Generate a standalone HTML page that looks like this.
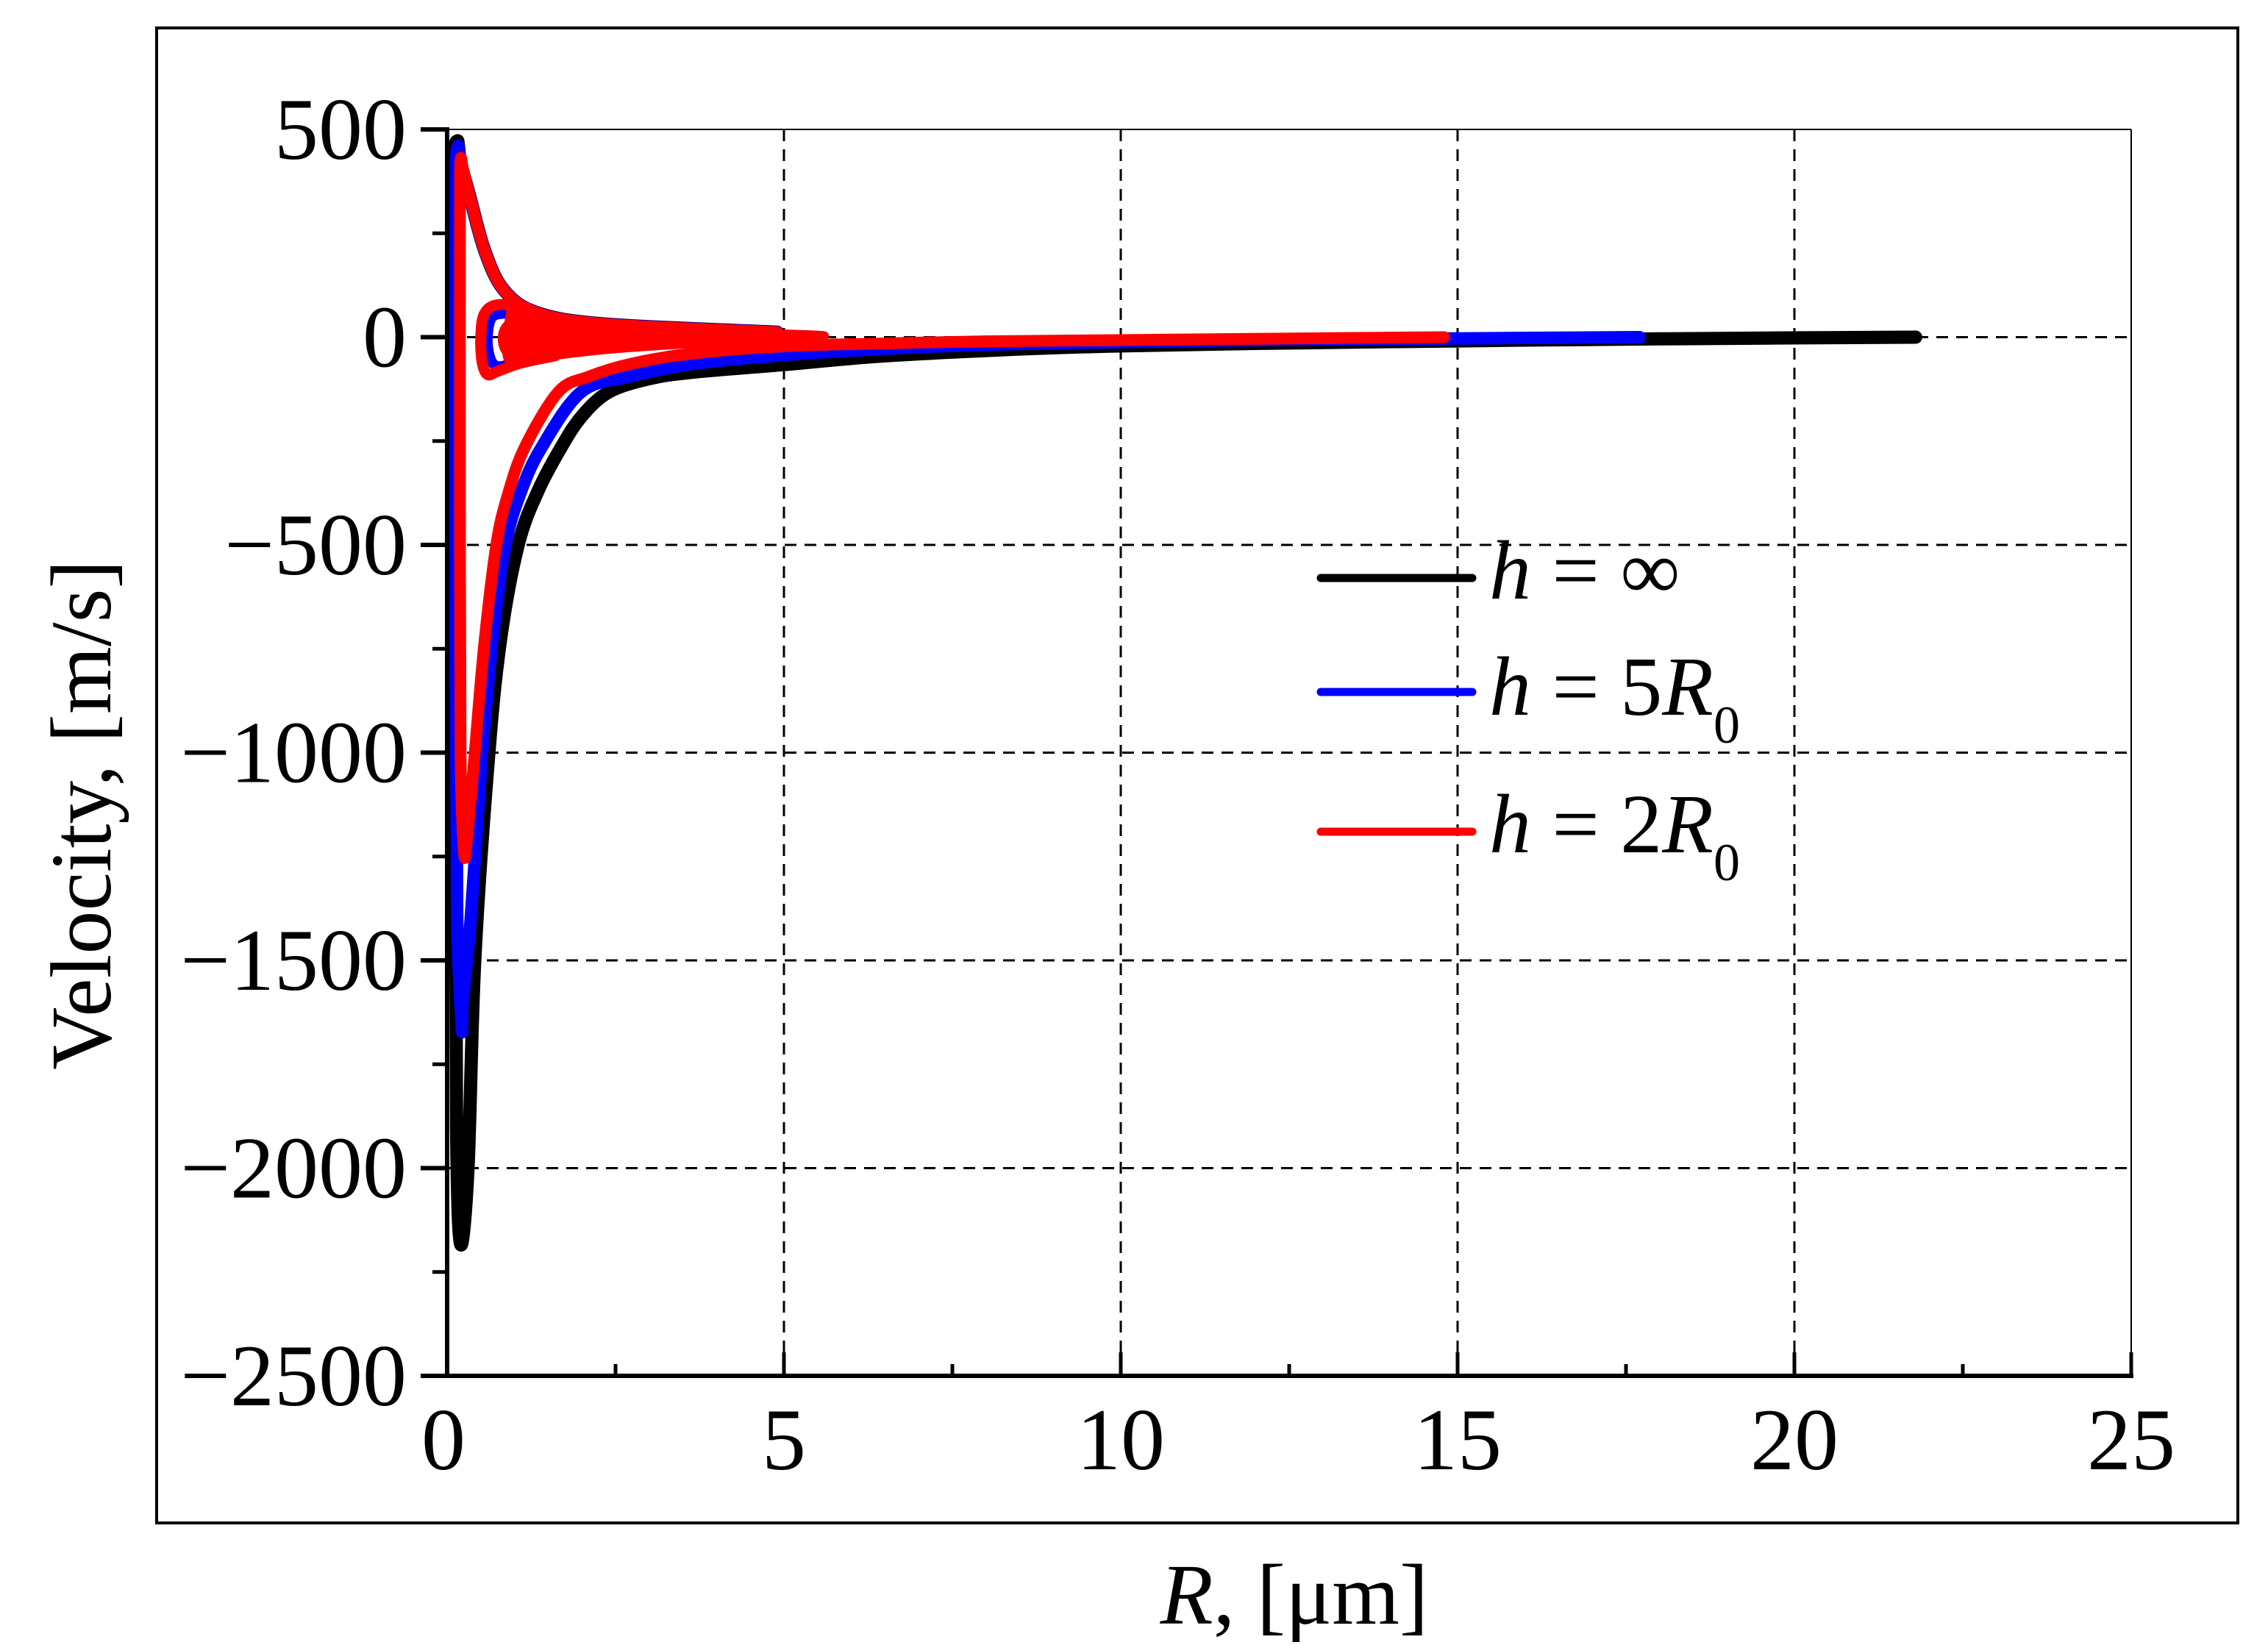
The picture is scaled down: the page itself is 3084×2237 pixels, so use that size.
<!DOCTYPE html>
<html><head><meta charset="utf-8"><style>
html,body{margin:0;padding:0;background:#fff;}
svg{display:block;}
text{font-family:"Liberation Serif",serif;fill:#000;}
</style></head><body>
<svg id="chart" width="3084" height="2237" viewBox="0 0 3084 2237" xmlns="http://www.w3.org/2000/svg">
<rect x="213" y="38" width="2830" height="2033" fill="none" stroke="#000" stroke-width="4"/>
<g id="grid"></g>
<g id="series"></g>
<g id="axes"></g>
<text transform="translate(150,1108) rotate(-90)" text-anchor="middle" font-size="118">Velocity, [m/s]</text>
<text x="1760" y="2208" text-anchor="middle" font-size="118"><tspan font-style="italic">R</tspan>, [μm]</text>
<g>
<g>
<line x1="1796" y1="786" x2="2002" y2="786" stroke="#000" stroke-width="11" stroke-linecap="round"/>
<text x="2025" y="814" font-size="114"><tspan font-style="italic">h</tspan> = ∞</text></g>
<g>
<line x1="1796" y1="941" x2="2002" y2="941" stroke="#0000ff" stroke-width="11" stroke-linecap="round"/>
<text x="2025" y="972" font-size="114"><tspan font-style="italic">h</tspan> = 5<tspan font-style="italic">R</tspan><tspan font-size="72" dy="38">0</tspan></text></g>
<g>
<line x1="1796" y1="1131" x2="2002" y2="1131" stroke="#ff0000" stroke-width="11" stroke-linecap="round"/>
<text x="2025" y="1159" font-size="114"><tspan font-style="italic">h</tspan> = 2<tspan font-style="italic">R</tspan><tspan font-size="72" dy="38">0</tspan></text></g>
</g>
</svg>
<script>
// Data (R in µm, velocity in m/s)
const xTicks = [0, 5, 10, 15, 20, 25];
const yTicks = [500, 0, -500, -1000, -1500, -2000, -2500];
const yTickLabels = ['500', '0', '\u2212500', '\u22121000', '\u22121500', '\u22122000', '\u22122500'];

// h = infinity (black)
const blackR = [21.8, 18, 15, 12, 10, 8.6, 6.5, 5.0, 3.66, 3.0, 2.4, 2.0, 1.69, 1.35, 1.06, 0.8, 0.62, 0.41, 0.31, 0.2, 0.14, 0.12, 0.12, 0.15, 0.2, 0.33, 0.56, 0.85, 1.35, 2.4, 4.9];
const blackV = [0, -4, -9, -15, -21, -28, -45, -66, -84, -100, -132, -190, -266, -370, -497, -720, -1000, -1500, -2000, -2183, -1900, -1000, 300, 468, 420, 343, 207, 112, 58, 31, 12];
// h = 5R0 (blue)
const blueR = [17.7, 15, 12, 10, 8, 6.5, 5.0, 3.66, 2.7, 1.99, 1.40, 1.1, 0.87, 0.68, 0.52, 0.35, 0.23, 0.22, 0.15, 0.13, 0.13, 0.16, 0.2, 0.33, 0.56, 0.85, 1.35, 2.4, 4.9];
const blueV = [0, -3, -7, -12, -18, -28, -43, -64, -95, -132, -266, -370, -497, -720, -1000, -1400, -1600, -1662, -1400, -800, 300, 455, 420, 343, 207, 112, 58, 31, 12];
// h = 2R0 (red)
const redR = [14.8, 12, 10, 8, 6.5, 5.0, 3.6, 2.73, 2.1, 1.65, 1.15, 0.9, 0.73, 0.55, 0.41, 0.3, 0.25, 0.2, 0.19, 0.19, 0.2, 0.24, 0.33, 0.56, 0.85, 1.35, 2.4, 4.9];
const redV = [0, -4, -7, -10, -15, -22, -40, -64, -95, -132, -266, -380, -500, -740, -1000, -1200, -1240, -1000, -400, 300, 427, 400, 343, 207, 112, 58, 31, 12];
// rebound loops (red, blue inner)
const redLoopR = [1.2, 0.75, 0.55, 0.5, 0.52, 0.6, 0.75, 1.1, 1.6];
const redLoopV = [70, 78, 55, 0, -60, -90, -82, -62, -45];
const redWedgeR = [0.95, 1.5, 2.5, 4.0, 5.6, 4.0, 2.5, 1.5, 0.95, 0.88];
const redWedgeV = [70, 52, 30, 13, 3, -12, -28, -46, -60, 0];
const blueLoopR = [1.0, 0.68, 0.6, 0.64, 0.75, 1.0];
const blueLoopV = [58, 50, 0, -50, -70, -62];
const innerLoopR = [1.2, 0.92, 0.83, 0.9, 1.2];
const innerLoopV = [38, 30, 0, -35, -42];

const NS = 'http://www.w3.org/2000/svg';
const X0 = 608, PXR = 91.6, Y0 = 458.5, PXV = 0.565;
function xs(r){ return X0 + r * PXR; }
function ys(v){ return Y0 - v * PXV; }
const pLeft = xs(0), pRight = xs(25), pTop = ys(500), pBottom = ys(-2500);

function mk(tag, attrs, parent){
  const e = document.createElementNS(NS, tag);
  for (const k in attrs) e.setAttribute(k, attrs[k]);
  parent.appendChild(e);
  return e;
}
const gridG = document.getElementById('grid');
const axesG = document.getElementById('axes');
const seriesG = document.getElementById('series');

xTicks.slice(1, -1).forEach(t => {
  const l = mk('line', {x1: xs(t), x2: xs(t), y1: pTop, y2: pBottom, stroke: '#000', 'stroke-width': 3, 'stroke-dasharray': '16 11'}, gridG);
  
  
});
yTicks.slice(1, -1).forEach(t => {
  const l = mk('line', {x1: pLeft, x2: pRight, y1: ys(t), y2: ys(t), stroke: '#000', 'stroke-width': 3, 'stroke-dasharray': '16 11'}, gridG);
  
  
});

function smoothD(R, V){
  const P = R.map((r, i) => [xs(r), ys(V[i])]);
  let d = 'M' + P[0][0].toFixed(1) + ' ' + P[0][1].toFixed(1);
  for (let i = 0; i < P.length - 1; i++) {
    const p0 = P[Math.max(0, i - 1)], p1 = P[i], p2 = P[i + 1], p3 = P[Math.min(P.length - 1, i + 2)];
    const c1 = [p1[0] + (p2[0] - p0[0]) / 6, p1[1] + (p2[1] - p0[1]) / 6];
    const c2 = [p2[0] - (p3[0] - p1[0]) / 6, p2[1] - (p3[1] - p1[1]) / 6];
    d += ' C' + c1[0].toFixed(1) + ' ' + c1[1].toFixed(1) + ' ' + c2[0].toFixed(1) + ' ' + c2[1].toFixed(1) + ' ' + p2[0].toFixed(1) + ' ' + p2[1].toFixed(1);
  }
  return d;
}
function drawLine(R, V, color, name, w, close){
  const p = mk('path', {d: smoothD(R, V) + (close ? ' Z' : ''), fill: close ? color : 'none', stroke: color, 'stroke-width': w, 'stroke-linejoin': 'round', 'stroke-linecap': 'round'}, seriesG);
  
  
}
drawLine(blackR, blackV, '#000', 'series-h-infinity', 18);
drawLine(blueR, blueV, '#0000ff', 'series-h-5R0', 17);
drawLine(blueLoopR, blueLoopV, '#0000ff', 'series-h-5R0-loop', 14);
drawLine(redR, redV, '#ff0000', 'series-h-2R0', 16);
drawLine(redLoopR, redLoopV, '#ff0000', 'series-h-2R0-loop', 15);
drawLine(redWedgeR, redWedgeV, '#ff0000', 'series-h-2R0-oscillations', 12, true);
drawLine(innerLoopR, innerLoopV, '#ff0000', 'series-h-2R0-inner-loop', 14);

let e = mk('line', {x1: pLeft, x2: pRight, y1: pTop, y2: pTop, stroke: '#000', 'stroke-width': 2}, axesG);


e = mk('line', {x1: pRight, x2: pRight, y1: pTop, y2: pBottom, stroke: '#000', 'stroke-width': 2}, axesG);


e = mk('line', {x1: pLeft, x2: pLeft, y1: pTop - 3, y2: pBottom + 3, stroke: '#000', 'stroke-width': 6}, axesG);


e = mk('line', {x1: pLeft - 3, x2: pRight + 3, y1: pBottom, y2: pBottom, stroke: '#000', 'stroke-width': 6}, axesG);



yTicks.forEach((t, i) => {
  const l = mk('line', {x1: pLeft - 36, x2: pLeft, y1: ys(t), y2: ys(t), stroke: '#000', 'stroke-width': 6}, axesG);
  
  
  const tx = mk('text', {x: 553, y: ys(t) + 40, 'text-anchor': 'end', 'font-size': 120}, axesG);
  tx.textContent = yTickLabels[i];
  
  
  if (i < yTicks.length - 1) {
    const m = mk('line', {x1: pLeft - 20, x2: pLeft, y1: ys(t - 250), y2: ys(t - 250), stroke: '#000', 'stroke-width': 5}, axesG);
    
    
  }
});
xTicks.forEach((t, i) => {
  const l = mk('line', {x1: xs(t), x2: xs(t), y1: pBottom, y2: pBottom - 32, stroke: '#000', 'stroke-width': 5}, axesG);
  
  
  const tx = mk('text', {x: xs(t) - (t === 0 ? 5 : 0), y: 1998, 'text-anchor': 'middle', 'font-size': 120}, axesG);
  tx.textContent = String(t);
  
  
  if (i < xTicks.length - 1) {
    const m = mk('line', {x1: xs(t + 2.5), x2: xs(t + 2.5), y1: pBottom, y2: pBottom - 16, stroke: '#000', 'stroke-width': 5}, axesG);
    
    
  }
});
</script>
</body></html>
